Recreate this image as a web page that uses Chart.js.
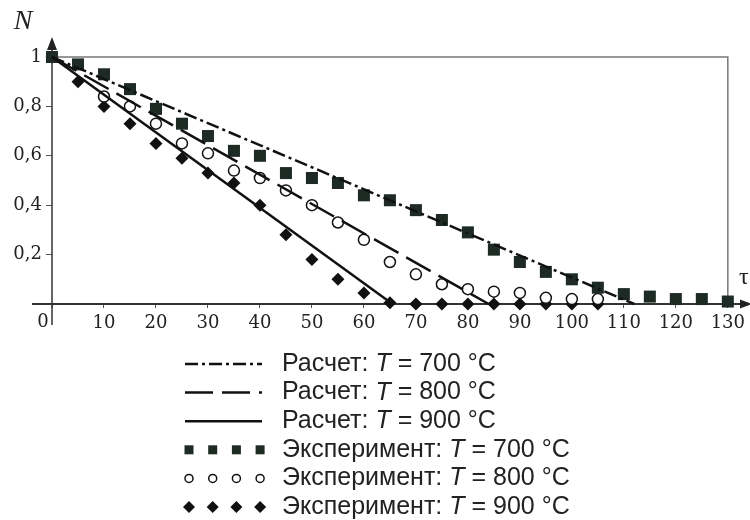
<!DOCTYPE html>
<html lang="ru">
<head>
  <meta charset="UTF-8" />
  <title>N(τ)</title>
  <script src="https://cdn.jsdelivr.net/npm/chart.js"></script>
  <style>
    html, body { margin: 0; padding: 0; background: #fff; }
    #wrap { width: 750px; height: 520px; position: relative; }
  </style>
</head>
<body>
  <div id="wrap"><canvas id="chart"></canvas></div>

  <script>
    // experiment: time points and measured N
    const tauExp = [0, 5, 10, 15, 20, 25, 30, 35, 40, 45, 50, 55, 60, 65,
                    70, 75, 80, 85, 90, 95, 100, 105, 110, 115, 120, 125, 130];
    const exp700 = [1.0, 0.97, 0.93, 0.87, 0.79, 0.73, 0.68, 0.62, 0.60, 0.53, 0.51, 0.49, 0.44, 0.42,
                    0.38, 0.34, 0.29, 0.22, 0.17, 0.13, 0.10, 0.066, 0.04, 0.03, 0.02, 0.02, 0.01];
    const exp800 = [null, null, 0.84, 0.80, 0.73, 0.65, 0.61, 0.54, 0.51, 0.46, 0.40, 0.33, 0.26, 0.17,
                    0.12, 0.08, 0.06, 0.05, 0.045, 0.025, 0.02, 0.02, null, null, null, null, null];
    const exp900 = [1.0, 0.90, 0.80, 0.73, 0.65, 0.59, 0.53, 0.49, 0.40, 0.28, 0.18, 0.10, 0.045, 0.005,
                    0, 0, 0, 0, 0, 0, 0, 0, null, null, null, null, null];

    // calculation: straight lines
    const calcTau700 = [0, 112];
    const calcN700 = [1, 0];
    const calcTau800 = [0, 84];
    const calcN800 = [1, 0];
    const calcTau900 = [0, 65.5];
    const calcN900 = [1, 0];

    const xTicks = [0, 10, 20, 30, 40, 50, 60, 70, 80, 90, 100, 110, 120, 130];
    const yTicks = [0, 0.2, 0.4, 0.6, 0.8, 1];

    const legendNames = ['Расчет: ', 'Расчет: ', 'Расчет: ',
                         'Эксперимент: ', 'Эксперимент: ', 'Эксперимент: '];
    const legendTemps = ['700', '800', '900', '700', '800', '900'];

    const pts = (xs, ys) => xs.map((x, i) => ({ x: x, y: ys[i] })).filter(p => p.y !== null);

    const lineSet = (xs, ys, dash) => ({
      type: 'line',
      data: pts(xs, ys),
      borderColor: '#111',
      borderWidth: 2.5,
      borderDash: dash,
      pointRadius: 0,
      fill: false,
      clip: false
    });

    const markSet = (ys, style, r, fillCol, bw) => ({
      type: 'line',
      data: pts(tauExp, ys),
      showLine: false,
      pointStyle: style,
      pointRadius: r,
      pointBackgroundColor: fillCol,
      pointBorderColor: '#111',
      pointBorderWidth: bw,
      clip: false
    });

    const frame = {
      id: 'frame',
      beforeDatasetsDraw(chart) {
        const { ctx, scales: { x, y } } = chart;
        const x0 = x.getPixelForValue(0), x1 = x.getPixelForValue(130);
        const y0 = y.getPixelForValue(0), y1 = y.getPixelForValue(1);
        ctx.save();
        ctx.strokeStyle = '#777';
        ctx.lineWidth = 1.5;
        ctx.beginPath();
        ctx.moveTo(x0, y1); ctx.lineTo(x1, y1); ctx.lineTo(x1, y0);
        ctx.stroke();

        ctx.strokeStyle = '#333';
        ctx.lineWidth = 2;
        ctx.beginPath();
        ctx.moveTo(x0 - 20, y0); ctx.lineTo(743, y0);
        ctx.stroke();
        ctx.lineWidth = 1.5;
        ctx.beginPath();
        ctx.moveTo(x0, y0 + 21); ctx.lineTo(x0, y1 - 10);
        ctx.stroke();

        ctx.fillStyle = '#222';
        ctx.beginPath();
        ctx.moveTo(752, y0); ctx.lineTo(740, y0 - 4.5); ctx.lineTo(740, y0 + 4.5);
        ctx.fill();
        ctx.beginPath();
        ctx.moveTo(x0, y1 - 20); ctx.lineTo(x0 - 5, y1 - 7); ctx.lineTo(x0 + 5, y1 - 7);
        ctx.fill();
        ctx.restore();
      },
      afterDraw(chart) {
        const { ctx, scales: { x, y } } = chart;
        const x0 = x.getPixelForValue(0), y0 = y.getPixelForValue(0);
        ctx.save();
        ctx.fillStyle = '#222';
        ctx.textBaseline = 'middle';
        ctx.font = 'italic 28px "Liberation Serif", serif';
        ctx.textAlign = 'center';
        ctx.fillText('N', 23, 22);
        ctx.font = '24px "Liberation Serif", serif';
        ctx.textAlign = 'left';
        ctx.fillText('τ', 739, y0 - 26);
        ctx.font = '18px "DejaVu Serif", serif';
        ctx.textAlign = 'center';
        ctx.fillText('0', x0 - 9, y0 + 18);

        // legend
        const sx = 185, ex = 262, tx = 282;
        ctx.textAlign = 'left';
        for (let i = 0; i < 6; i++) {
          const yc = 364 + i * 28.6;
          ctx.strokeStyle = '#111';
          ctx.fillStyle = '#111';
          ctx.lineWidth = 2.5;
          if (i < 3) {
            ctx.setLineDash(chart.data.datasets[i].borderDash || []);
            ctx.beginPath();
            ctx.moveTo(sx, yc); ctx.lineTo(ex, yc);
            ctx.stroke();
            ctx.setLineDash([]);
          } else {
            for (let k = 0; k < 4; k++) {
              const mx = 189 + k * 23.7;
              if (i === 3) {
                ctx.fillStyle = '#1d2b24';
                ctx.fillRect(mx - 4.5, yc - 4.5, 9, 9);
              } else if (i === 4) {
                ctx.lineWidth = 1.5;
                ctx.fillStyle = '#fff';
                ctx.beginPath();
                ctx.arc(mx, yc, 4, 0, Math.PI * 2);
                ctx.fill(); ctx.stroke();
              } else {
                ctx.beginPath();
                ctx.moveTo(mx, yc - 6); ctx.lineTo(mx + 6, yc);
                ctx.lineTo(mx, yc + 6); ctx.lineTo(mx - 6, yc);
                ctx.closePath();
                ctx.fill();
              }
            }
          }
          ctx.fillStyle = '#222';
          let px = tx;
          ctx.font = '25px "Liberation Sans", Arial, sans-serif';
          ctx.fillText(legendNames[i], px, yc);
          px += ctx.measureText(legendNames[i]).width;
          ctx.font = 'italic 25px "Liberation Sans", Arial, sans-serif';
          ctx.fillText('T', px, yc);
          px += ctx.measureText('T').width;
          ctx.font = '25px "Liberation Sans", Arial, sans-serif';
          ctx.fillText(' = ' + legendTemps[i] + ' °C', px, yc);
        }
        ctx.restore();
      }
    };

    new Chart(document.getElementById('chart'), {
      data: {
        datasets: [
          lineSet(calcTau700, calcN700, [13, 4, 3, 4]),
          lineSet(calcTau800, calcN800, [28, 9]),
          lineSet(calcTau900, calcN900, []),
          markSet(exp700, 'rect', 8.5, '#1d2b24', 0),
          markSet(exp800, 'circle', 5.5, '#fff', 1.5),
          markSet(exp900, 'rectRot', 6.5, '#111', 0)
        ]
      },
      options: {
        responsive: true,
        maintainAspectRatio: false,
        animation: false,
        layout: { padding: { left: 0, right: 17, top: 57, bottom: 0 } },
        plugins: { legend: { display: false }, tooltip: { enabled: false } },
        scales: {
          x: {
            type: 'linear',
            min: 0,
            max: 130,
            afterBuildTicks: s => { s.ticks = xTicks.map(v => ({ value: v })); },
            afterFit: s => { s.height = 216; },
            border: { display: false },
            grid: { drawOnChartArea: false, drawTicks: true, tickLength: 4, color: '#555' },
            ticks: {
              padding: 5,
              color: '#222',
              font: { family: '"DejaVu Serif", serif', size: 18 },
              maxRotation: 0,
              autoSkip: false,
              callback: v => (v === 0 ? '' : String(v))
            }
          },
          y: {
            type: 'linear',
            min: 0,
            max: 1,
            afterBuildTicks: s => { s.ticks = yTicks.map(v => ({ value: v })); },
            afterFit: s => { s.width = 52; },
            border: { display: false },
            grid: { drawOnChartArea: false, drawTicks: true, tickLength: 6, color: '#555' },
            ticks: {
              padding: 4,
              color: '#222',
              font: { family: '"DejaVu Serif", serif', size: 18 },
              autoSkip: false,
              callback: v => (v === 0 ? '' : v === 1 ? '1' : v.toFixed(1).replace('.', ','))
            }
          }
        }
      },
      plugins: [frame]
    });
  </script>
</body>
</html>
